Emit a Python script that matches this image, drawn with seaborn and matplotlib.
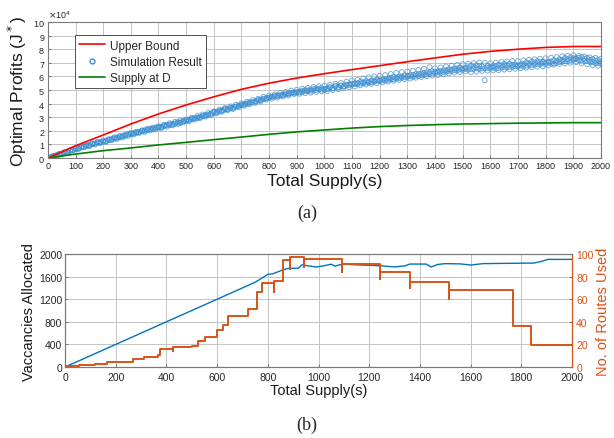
import numpy as np
import pandas as pd
import seaborn as sns
import matplotlib.pyplot as plt
from matplotlib.lines import Line2D

# ---- data (a): profits in units of 1e4 ----
curve_x = [0, 100, 200, 300, 400, 500, 600, 700, 800, 900, 1000,
           1100, 1200, 1300, 1400, 1500, 1600, 1700, 1800, 1900, 2000]
upper_bound = [0, 0.9, 1.69, 2.5, 3.24, 3.9, 4.5, 5.05, 5.5, 5.88, 6.2,
               6.5, 6.79, 7.08, 7.36, 7.63, 7.84, 8.0, 8.13, 8.2, 8.2]
supply_d = [0, 0.29, 0.54, 0.74, 0.96, 1.15, 1.35, 1.54, 1.74, 1.92, 2.06,
            2.2, 2.31, 2.39, 2.45, 2.5, 2.53, 2.56, 2.58, 2.6, 2.6]

sim_x = list(range(10, 2001, 10))
sim_run1 = [0.07, 0.12, 0.20, 0.25, 0.34, 0.38, 0.47, 0.51, 0.61, 0.65,
            0.73, 0.76, 0.85, 0.88, 0.96, 1.00, 1.08, 1.11, 1.17, 1.22,
            1.24, 1.34, 1.36, 1.47, 1.48, 1.56, 1.61, 1.66, 1.72, 1.79,
            1.79, 1.88, 1.90, 1.99, 2.00, 2.08, 2.12, 2.14, 2.22, 2.27,
            2.26, 2.37, 2.39, 2.47, 2.46, 2.55, 2.60, 2.62, 2.70, 2.76,
            2.78, 2.88, 2.90, 2.97, 3.00, 3.10, 3.12, 3.20, 3.28, 3.33,
            3.40, 3.42, 3.52, 3.56, 3.62, 3.64, 3.72, 3.80, 3.82, 3.92,
            3.93, 4.02, 4.05, 4.08, 4.18, 4.22, 4.25, 4.36, 4.38, 4.46,
            4.48, 4.52, 4.60, 4.58, 4.66, 4.72, 4.70, 4.80, 4.78, 4.86,
            4.82, 4.95, 4.90, 4.98, 4.94, 5.06, 5.00, 5.10, 5.02, 5.08,
            5.12, 5.18, 5.14, 5.26, 5.22, 5.30, 5.28, 5.40, 5.36, 5.46,
            5.44, 5.52, 5.47, 5.58, 5.54, 5.62, 5.58, 5.70, 5.64, 5.72,
            5.70, 5.82, 5.74, 5.88, 5.80, 5.92, 5.86, 6.00, 5.93, 6.04,
            6.00, 6.12, 6.05, 6.18, 6.10, 6.26, 6.14, 6.30, 6.22, 6.34,
            6.28, 6.40, 6.32, 6.46, 6.38, 6.52, 6.45, 6.60, 6.50, 6.58,
            6.56, 6.68, 6.52, 6.72, 6.60, 6.76, 6.58, 5.72, 6.62, 6.70,
            6.64, 6.78, 6.62, 6.82, 6.70, 6.84, 6.68, 6.86, 6.74, 6.82,
            6.80, 6.92, 6.78, 6.98, 6.84, 7.04, 6.90, 7.06, 6.96, 7.02,
            7.00, 7.10, 6.96, 7.16, 7.06, 7.22, 7.12, 7.30, 7.20, 7.34,
            7.26, 7.38, 7.18, 7.30, 7.12, 7.22, 7.04, 7.16, 6.98, 7.10]
sim_run2 = [0.05, 0.14, 0.18, 0.27, 0.31, 0.40, 0.44, 0.54, 0.58, 0.68,
            0.70, 0.79, 0.82, 0.91, 0.93, 1.03, 1.05, 1.14, 1.15, 1.19,
            1.28, 1.30, 1.40, 1.42, 1.52, 1.52, 1.64, 1.63, 1.76, 1.74,
            1.84, 1.84, 1.94, 1.95, 2.04, 2.04, 2.16, 2.11, 2.25, 2.23,
            2.32, 2.33, 2.44, 2.42, 2.52, 2.51, 2.64, 2.58, 2.73, 2.72,
            2.83, 2.84, 2.94, 2.93, 3.05, 3.06, 3.17, 3.16, 3.24, 3.38,
            3.36, 3.47, 3.48, 3.60, 3.58, 3.69, 3.68, 3.76, 3.86, 3.88,
            3.98, 3.97, 4.10, 4.12, 4.14, 4.27, 4.30, 4.32, 4.42, 4.42,
            4.52, 4.56, 4.55, 4.64, 4.62, 4.67, 4.76, 4.74, 4.83, 4.80,
            4.88, 4.86, 5.00, 4.92, 5.04, 4.96, 5.12, 5.04, 5.14, 5.00,
            5.06, 5.22, 5.10, 5.30, 5.18, 5.34, 5.24, 5.36, 5.42, 5.40,
            5.50, 5.42, 5.60, 5.48, 5.66, 5.52, 5.68, 5.60, 5.76, 5.66,
            5.78, 5.68, 5.86, 5.76, 5.96, 5.82, 5.98, 5.90, 6.08, 5.96,
            6.08, 5.96, 6.16, 6.02, 6.22, 6.10, 6.28, 6.18, 6.38, 6.24,
            6.36, 6.24, 6.44, 6.32, 6.52, 6.40, 6.58, 6.44, 6.66, 6.48,
            6.62, 6.50, 6.78, 6.56, 6.82, 6.54, 6.74, 6.60, 6.80, 6.58,
            6.74, 6.58, 6.86, 6.64, 6.90, 6.66, 6.92, 6.70, 6.88, 6.72,
            6.88, 6.74, 7.04, 6.82, 7.10, 6.86, 7.12, 6.88, 7.08, 6.90,
            7.08, 6.94, 7.20, 7.00, 7.26, 7.08, 7.36, 7.14, 7.40, 7.22,
            7.34, 7.20, 7.42, 7.16, 7.36, 7.06, 7.28, 6.96, 7.20, 6.92]
sim_run3 = [0.03, 0.16, 0.15, 0.30, 0.28, 0.44, 0.41, 0.57, 0.55, 0.72,
            0.66, 0.84, 0.78, 0.95, 0.88, 1.08, 1.00, 1.18, 1.10, 1.28,
            1.18, 1.38, 1.32, 1.52, 1.40, 1.62, 1.50, 1.72, 1.62, 1.84,
            1.72, 1.94, 1.84, 2.04, 1.92, 2.16, 2.02, 2.24, 2.10, 2.34,
            2.20, 2.44, 2.30, 2.56, 2.40, 2.66, 2.50, 2.76, 2.62, 2.84,
            2.70, 2.96, 2.82, 3.08, 2.92, 3.20, 3.04, 3.32, 3.14, 3.44,
            3.28, 3.56, 3.40, 3.68, 3.50, 3.80, 3.60, 3.92, 3.72, 4.02,
            3.84, 4.14, 3.96, 4.26, 4.06, 4.36, 4.16, 4.50, 4.30, 4.60,
            4.36, 4.68, 4.44, 4.78, 4.52, 4.86, 4.60, 4.96, 4.70, 5.02,
            4.72, 5.10, 4.76, 5.16, 4.80, 5.22, 4.86, 5.28, 4.90, 5.32,
            4.92, 5.38, 5.00, 5.46, 5.06, 5.52, 5.14, 5.62, 5.20, 5.70,
            5.26, 5.76, 5.34, 5.86, 5.40, 5.94, 5.46, 6.00, 5.50, 6.04,
            5.56, 6.10, 5.62, 6.18, 5.68, 6.26, 5.74, 6.32, 5.80, 6.36,
            5.84, 6.42, 5.90, 6.48, 5.96, 6.56, 6.02, 6.68, 6.06, 6.60,
            6.10, 6.66, 6.16, 6.74, 6.22, 6.80, 6.28, 6.86, 6.32, 6.90,
            6.36, 6.94, 6.30, 6.98, 6.34, 7.02, 6.40, 7.00, 6.42, 6.96,
            6.44, 7.02, 6.46, 7.06, 6.50, 7.10, 6.52, 7.14, 6.56, 7.12,
            6.60, 7.18, 6.64, 7.22, 6.68, 7.26, 6.72, 7.30, 6.74, 7.34,
            6.80, 7.38, 6.86, 7.42, 6.92, 7.48, 6.96, 7.52, 7.00, 7.56,
            7.04, 7.50, 6.96, 7.46, 6.88, 7.40, 6.82, 7.36, 6.78, 7.30]

# ---- data (b) ----
vac_x = [0, 750, 800, 820, 860, 880, 920, 935, 960, 990, 1020, 1050, 1065,
         1080, 1095, 1140, 1200, 1250, 1300, 1340, 1360, 1425, 1444, 1470,
         1500, 1560, 1600, 1650, 1850, 1880, 1905, 2000]
vac_alloc = [0, 1500, 1640, 1650, 1720, 1745, 1750, 1810, 1790, 1770, 1790,
             1820, 1785, 1805, 1822, 1810, 1800, 1790, 1772, 1790, 1822,
             1822, 1770, 1815, 1830, 1825, 1805, 1830, 1840, 1870, 1905, 1905]

route_x = [0, 55, 118, 164, 267, 312, 367, 375, 425, 425, 500, 523, 552, 598,
           622, 644, 720, 758, 776, 824, 824, 858, 887, 887, 943, 943,
           1094, 1094, 1243, 1243, 1362, 1362, 1513, 1513, 1767, 1837, 2000]
routes_used = [1.2, 2, 3, 4.7, 6.8, 8.6, 10.6, 16, 14, 17.4, 18.3, 23, 27, 32.7,
               37, 45.4, 51, 66.6, 74.3, 66, 75.8, 95, 87, 97, 88.5, 96,
               83.8, 91, 78, 83.8, 70, 75.5, 60, 68, 36, 19.5, 19.5]

blue = '#0072BD'
orange = '#D95319'

sns.set_style('ticks')
plt.rcParams['font.family'] = ['Liberation Sans', 'DejaVu Sans']
plt.rcParams['axes.edgecolor'] = '#7a7a7a'
plt.rcParams['axes.linewidth'] = 0.8

fig = plt.figure(figsize=(6.14, 4.39), dpi=100)
ax = fig.add_axes([0.078, 0.6378, 0.9007, 0.3098])

curves = pd.DataFrame({'x': curve_x,
                       'ub': np.array(upper_bound) * 1e4,
                       'sd': np.array(supply_d) * 1e4})
sim = pd.DataFrame({'x': sim_x * 3,
                    'y': np.array(sim_run1 + sim_run2 + sim_run3) * 1e4})

sns.scatterplot(data=sim, x='x', y='y', ax=ax, s=12, marker='o', linewidth=0.6)
pts = ax.collections[-1]
pts.set_facecolor('none')
pts.set_edgecolor('#3d8fd0')
pts.set_alpha(0.8)
sns.lineplot(data=curves, x='x', y='ub', ax=ax, color='#ff0000', lw=1.2,
             estimator=None, sort=False)
sns.lineplot(data=curves, x='x', y='sd', ax=ax, color='#008000', lw=1.2,
             estimator=None, sort=False)

ax.set_xlim(0, 2000)
ax.set_ylim(0, 1e5)
ax.set_xticks(range(0, 2001, 100))
ax.set_yticks(np.arange(0, 1.00001e5, 1e4))
ax.ticklabel_format(style='sci', axis='y', scilimits=(4, 4), useMathText=True)
ax.yaxis.get_offset_text().set_fontsize(6.5)
ax.yaxis.get_offset_text().set_color('#262626')
ax.grid(True, color='#c4c4c4', lw=0.7)
ax.tick_params(direction='in', labelsize=6.5, length=2, colors='#7a7a7a',
               labelcolor='#262626', pad=2)
ax.set_xlabel('Total Supply(s)', fontsize=12.5, labelpad=2, color='#1a1a1a')
ax.set_ylabel('Optimal Profits (J$^*$)', fontsize=12.5, labelpad=3, color='#1a1a1a')

handles = [Line2D([], [], color='#ff0000', lw=1.2),
           Line2D([], [], ls='none', marker='o', mfc='none', mec='#3d8fd0', ms=3.5),
           Line2D([], [], color='#008000', lw=1.2)]
leg = ax.legend(handles, ['Upper Bound', 'Simulation Result', 'Supply at D'],
                loc='upper left', bbox_to_anchor=(0.038, 0.945), fontsize=8.5,
                frameon=True, fancybox=False, framealpha=1, borderpad=0.35,
                labelspacing=0.35, handlelength=2.2, handletextpad=0.4,
                edgecolor='#333333')
leg.get_frame().set_linewidth(0.6)

# ---- panel (b) ----
bx = fig.add_axes([0.1059, 0.1617, 0.8257, 0.2574])
vac = pd.DataFrame({'x': vac_x, 'y': vac_alloc})
rt = pd.DataFrame({'x': route_x, 'y': routes_used})

sns.lineplot(data=vac, x='x', y='y', ax=bx, color=blue, lw=1.0,
             estimator=None, sort=False)
bx.set_xlim(0, 2000)
bx.set_ylim(0, 2000)
bx.set_xticks(range(0, 2001, 200))
bx.set_yticks(range(0, 2001, 400))
bx.grid(True, color='#c4c4c4', lw=0.7)
bx.tick_params(direction='in', labelsize=7.5, length=2, colors='#7a7a7a',
               labelcolor='#262626', pad=2)
bx.tick_params(axis='x', pad=3.5)
bx.set_xlabel('Total Supply(s)', fontsize=10.5, labelpad=0.5, color='#1a1a1a')
bx.set_ylabel('Vaccancies Allocated', fontsize=10.5, labelpad=2, color='#1a1a1a')

bx2 = bx.twinx()
sns.lineplot(data=rt, x='x', y='y', ax=bx2, color=orange, lw=1.4,
             estimator=None, sort=False, drawstyle='steps-post')
bx2.set_ylim(0, 100)
bx2.set_yticks(range(0, 101, 20))
bx2.tick_params(direction='in', labelsize=7.5, length=2, colors=orange,
                labelcolor=orange, pad=3)
bx2.spines['right'].set_color(orange)
bx2.set_ylabel('No. of Routes Used', fontsize=10.5, color=orange, labelpad=2)

fig.text(0.5, 0.515, '(a)', ha='center', va='center', fontsize=13,
         family='Liberation Serif')
fig.text(0.5, 0.032, '(b)', ha='center', va='center', fontsize=13,
         family='Liberation Serif')

fig.savefig('out.png', dpi=100)
